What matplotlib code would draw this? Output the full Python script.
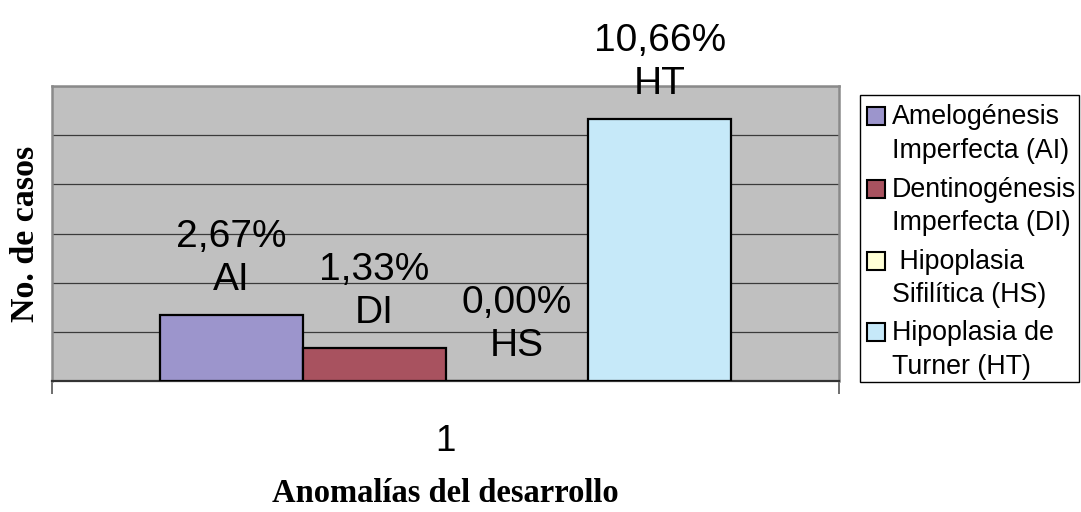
import matplotlib
matplotlib.use("Agg")
import matplotlib.pyplot as plt
from matplotlib.patches import Rectangle

# ---- data ----
categories = ["1"]
series_short = ["AI", "DI", "HS", "HT"]
series_names = ["Amelogénesis\nImperfecta (AI)",
                "Dentinogénesis\nImperfecta (DI)",
                " Hipoplasia\nSifilítica (HS)",
                "Hipoplasia de\nTurner (HT)"]
values = [2.67, 1.33, 0.00, 10.66]
value_labels = ["2,67%", "1,33%", "0,00%", "10,66%"]
colors = ["#9C95CC", "#A8525F", "#FFFFD6", "#C6E9F9"]
y_max = 12
y_step = 2
x_title = "Anomalías del desarrollo"
y_title = "No. de casos"

W, H = 1081, 512
fig = plt.figure(figsize=(W / 100, H / 100), dpi=100)
fig.patch.set_facecolor("white")

left, right, top, bottom = 52, 839, 86, 381
ax = fig.add_axes([left / W, 1 - bottom / H, (right - left) / W, (bottom - top) / H])
ax.set_facecolor("#C0C0C0")

sans = "Liberation Sans"
serif = "Liberation Serif"

n = len(values)
width = 0.1817
offsets = [(i - (n - 1) / 2) * width for i in range(n)]
for i in range(n):
    ax.bar(0 + offsets[i], values[i], width=width, color=colors[i],
           edgecolor="black", linewidth=1.6, zorder=3)
    ax.annotate(value_labels[i] + "\n" + series_short[i],
                xy=(0 + offsets[i], values[i]), xytext=(0, 12.5),
                textcoords="offset points", ha="center", va="bottom",
                fontsize=28, family=sans, linespacing=1.25,
                zorder=5, annotation_clip=False)

ax.set_xlim(-0.5, 0.5)
ax.set_ylim(0, y_max)
ax.set_yticks(list(range(0, y_max + 1, y_step)))
ax.tick_params(axis="y", length=0, labelleft=False)
ax.yaxis.grid(True, color="#3A3A3A", linewidth=0.9, zorder=1)
ax.set_axisbelow(True)

ax.set_xticks([0])
ax.set_xticklabels(categories, fontsize=26.5, family=sans)
ax.tick_params(axis="x", which="major", length=0, pad=31)
ax.set_xticks([-0.5, 0.5], minor=True)
ax.tick_params(axis="x", which="minor", length=9, width=1.2,
               color="#555555", direction="out")

for s in ["left", "top", "right"]:
    ax.spines[s].set_color("#8A8A8A")
    ax.spines[s].set_linewidth(1.8)
ax.spines["bottom"].set_color("#333333")
ax.spines["bottom"].set_linewidth(1.6)

ax.set_xlabel(x_title, fontsize=23.5, family=serif, fontweight="bold")
ax.xaxis.set_label_coords(0.5, (bottom - 494) / (bottom - top))
ax.xaxis.label.set_va("center")
ax.set_ylabel(y_title, fontsize=24.5, family=serif, fontweight="bold")
ax.yaxis.set_label_coords((26 - left) / (right - left), 0.5)
ax.yaxis.label.set_va("center")

# ---- legend (drawn in figure pixels) ----
lx0, ly0, lx1, ly1 = 860, 95, 1079, 382
fig.patches.append(Rectangle((lx0 / W, 1 - ly1 / H), (lx1 - lx0) / W, (ly1 - ly0) / H,
                             transform=fig.transFigure, fc="white", ec="black", lw=1.0))
row_y = [116, 189, 261, 332]
line_step = 32
for i in range(n):
    yc = row_y[i]
    fig.patches.append(Rectangle((867 / W, 1 - (yc + 9) / H), 18 / W, 18 / H,
                                 transform=fig.transFigure, fc=colors[i],
                                 ec="black", lw=1.5))
    fig.text(892 / W, 1 - (yc + 9.5 + line_step) / H, series_names[i], fontsize=19.3,
             family=sans, va="baseline", ha="left", linespacing=1.36)

fig.savefig("out.png", dpi=100)
